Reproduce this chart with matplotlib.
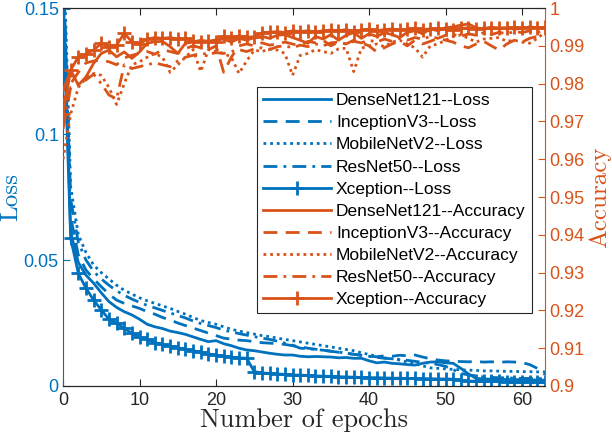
import matplotlib
matplotlib.use("Agg")
import matplotlib.pyplot as plt

epochs = list(range(64))

loss_densenet = [0.160, 0.0610, 0.0490, 0.0440, 0.0408, 0.0370, 0.0335, 0.0312, 0.0295, 0.0282,
                 0.0265, 0.0245, 0.0235, 0.0228, 0.0218, 0.0212, 0.0205, 0.0195, 0.0185, 0.0176,
                 0.0180, 0.0168, 0.0160, 0.0150, 0.0143, 0.0140, 0.0135, 0.0130, 0.0126, 0.0123,
                 0.0123, 0.0118, 0.0116, 0.0117, 0.0116, 0.0115, 0.0112, 0.0113, 0.0110, 0.0110,
                 0.0100, 0.0092, 0.0095, 0.0090, 0.0088, 0.0085, 0.0083, 0.0090, 0.0095, 0.0096,
                 0.0092, 0.0090, 0.0070, 0.0048, 0.0030, 0.0028, 0.0027, 0.0028, 0.0026, 0.0025,
                 0.0026, 0.0024, 0.0024, 0.0023]
loss_inception = [0.170, 0.0670, 0.0520, 0.0460, 0.0425, 0.0394, 0.0365, 0.0341, 0.0328, 0.0318,
                  0.0308, 0.0295, 0.0285, 0.0272, 0.0262, 0.0250, 0.0240, 0.0230, 0.0220, 0.0210,
                  0.0200, 0.0190, 0.0186, 0.0182, 0.0180, 0.0176, 0.0172, 0.0170, 0.0168, 0.0165,
                  0.0160, 0.0156, 0.0150, 0.0146, 0.0142, 0.0138, 0.0134, 0.0130, 0.0126, 0.0122,
                  0.0118, 0.0116, 0.0120, 0.0118, 0.0122, 0.0120, 0.0123, 0.0115, 0.0108, 0.0103,
                  0.0100, 0.0098, 0.0097, 0.0096, 0.0097, 0.0095, 0.0096, 0.0094, 0.0096, 0.0095,
                  0.0093, 0.0085, 0.0070, 0.0045]
loss_mobilenet = [0.180, 0.0790, 0.0600, 0.0530, 0.0480, 0.0450, 0.0425, 0.0400, 0.0380, 0.0365,
                  0.0350, 0.0338, 0.0328, 0.0318, 0.0308, 0.0296, 0.0285, 0.0272, 0.0260, 0.0252,
                  0.0245, 0.0235, 0.0225, 0.0218, 0.0212, 0.0206, 0.0200, 0.0196, 0.0190, 0.0185,
                  0.0180, 0.0175, 0.0170, 0.0165, 0.0160, 0.0155, 0.0150, 0.0145, 0.0140, 0.0132,
                  0.0125, 0.0118, 0.0112, 0.0108, 0.0103, 0.0095, 0.0088, 0.0080, 0.0072, 0.0070,
                  0.0068, 0.0066, 0.0064, 0.0063, 0.0062, 0.0060, 0.0060, 0.0059, 0.0058, 0.0058,
                  0.0057, 0.0057, 0.0056, 0.0056]
loss_resnet = [0.170, 0.0740, 0.0570, 0.0500, 0.0455, 0.0425, 0.0400, 0.0378, 0.0360, 0.0345,
               0.0332, 0.0320, 0.0310, 0.0300, 0.0290, 0.0280, 0.0270, 0.0258, 0.0248, 0.0240,
               0.0232, 0.0222, 0.0215, 0.0208, 0.0202, 0.0196, 0.0190, 0.0185, 0.0178, 0.0170,
               0.0162, 0.0150, 0.0148, 0.0145, 0.0142, 0.0138, 0.0135, 0.0130, 0.0126, 0.0122,
               0.0118, 0.0114, 0.0110, 0.0108, 0.0105, 0.0102, 0.0098, 0.0094, 0.0090, 0.0085,
               0.0078, 0.0065, 0.0050, 0.0044, 0.0040, 0.0036, 0.0034, 0.0033, 0.0032, 0.0031,
               0.0030, 0.0030, 0.0029, 0.0030]
loss_xception = [0.150, 0.0586, 0.0447, 0.0388, 0.0341, 0.0302, 0.0265, 0.0249, 0.0229, 0.0209,
                 0.0195, 0.0185, 0.0172, 0.0165, 0.0158, 0.0152, 0.0145, 0.0140, 0.0135, 0.0128,
                 0.0122, 0.0118, 0.0115, 0.0112, 0.0110, 0.0057, 0.0052, 0.0050, 0.0048, 0.0046,
                 0.0044, 0.0043, 0.0042, 0.0040, 0.0039, 0.0038, 0.0037, 0.0036, 0.0035, 0.0034,
                 0.0033, 0.0033, 0.0032, 0.0031, 0.0031, 0.0030, 0.0030, 0.0029, 0.0029, 0.0028,
                 0.0028, 0.0027, 0.0022, 0.0020, 0.0019, 0.0019, 0.0018, 0.0018, 0.0017, 0.0017,
                 0.0017, 0.0016, 0.0016, 0.0016]

acc_densenet = [0.9780, 0.9836, 0.9796, 0.9818, 0.9854, 0.9880, 0.9889, 0.9871, 0.9884, 0.9867,
                0.9884, 0.9907, 0.9911, 0.9912, 0.9898, 0.9880, 0.9907, 0.9910, 0.9915, 0.9912,
                0.9916, 0.9918, 0.9910, 0.9920, 0.9915, 0.9922, 0.9925, 0.9920, 0.9928, 0.9930,
                0.9922, 0.9915, 0.9907, 0.9925, 0.9918, 0.9930, 0.9915, 0.9928, 0.9935, 0.9920,
                0.9932, 0.9925, 0.9935, 0.9930, 0.9922, 0.9936, 0.9940, 0.9932, 0.9945, 0.9940,
                0.9948, 0.9950, 0.9955, 0.9958, 0.9948, 0.9945, 0.9950, 0.9946, 0.9948, 0.9944,
                0.9947, 0.9950, 0.9948, 0.9946]
acc_inception = [0.9750, 0.9800, 0.9830, 0.9855, 0.9860, 0.9862, 0.9858, 0.9850, 0.9868, 0.9875,
                 0.9880, 0.9885, 0.9878, 0.9890, 0.9885, 0.9880, 0.9893, 0.9900, 0.9895, 0.9890,
                 0.9900, 0.9830, 0.9870, 0.9900, 0.9905, 0.9900, 0.9908, 0.9902, 0.9905, 0.9910,
                 0.9905, 0.9900, 0.9912, 0.9908, 0.9915, 0.9900, 0.9910, 0.9905, 0.9915, 0.9908,
                 0.9900, 0.9884, 0.9895, 0.9905, 0.9912, 0.9900, 0.9915, 0.9905, 0.9912, 0.9920,
                 0.9915, 0.9910, 0.9900, 0.9895, 0.9905, 0.9912, 0.9900, 0.9889, 0.9905, 0.9915,
                 0.9910, 0.9920, 0.9925, 0.9930]
acc_mobilenet = [0.9600, 0.9720, 0.9790, 0.9815, 0.9827, 0.9822, 0.9790, 0.9745, 0.9800, 0.9850,
                 0.9858, 0.9870, 0.9880, 0.9870, 0.9830, 0.9850, 0.9870, 0.9890, 0.9832, 0.9890,
                 0.9885, 0.9880, 0.9870, 0.9827, 0.9860, 0.9889, 0.9885, 0.9892, 0.9889, 0.9880,
                 0.9822, 0.9875, 0.9880, 0.9890, 0.9885, 0.9880, 0.9892, 0.9894, 0.9832, 0.9894,
                 0.9900, 0.9905, 0.9898, 0.9910, 0.9915, 0.9905, 0.9895, 0.9870, 0.9900, 0.9905,
                 0.9915, 0.9925, 0.9929, 0.9920, 0.9910, 0.9918, 0.9920, 0.9922, 0.9912, 0.9915,
                 0.9910, 0.9907, 0.9920, 0.9936]
acc_resnet = [0.9680, 0.9790, 0.9800, 0.9810, 0.9825, 0.9800, 0.9770, 0.9760, 0.9850, 0.9840,
              0.9845, 0.9850, 0.9855, 0.9850, 0.9845, 0.9860, 0.9870, 0.9875, 0.9880, 0.9878,
              0.9882, 0.9880, 0.9885, 0.9890, 0.9885, 0.9892, 0.9895, 0.9890, 0.9898, 0.9900,
              0.9895, 0.9902, 0.9898, 0.9905, 0.9900, 0.9908, 0.9910, 0.9905, 0.9912, 0.9908,
              0.9915, 0.9910, 0.9918, 0.9912, 0.9920, 0.9915, 0.9922, 0.9918, 0.9925, 0.9920,
              0.9928, 0.9930, 0.9925, 0.9932, 0.9928, 0.9935, 0.9930, 0.9936, 0.9932, 0.9938,
              0.9935, 0.9940, 0.9936, 0.9938]
acc_xception = [0.9720, 0.9836, 0.9871, 0.9878, 0.9889, 0.9907, 0.9898, 0.9902, 0.9933, 0.9911,
                0.9905, 0.9918, 0.9922, 0.9920, 0.9922, 0.9918, 0.9920, 0.9912, 0.9911, 0.9912,
                0.9910, 0.9925, 0.9922, 0.9926, 0.9923, 0.9924, 0.9935, 0.9936, 0.9938, 0.9935,
                0.9940, 0.9938, 0.9940, 0.9937, 0.9940, 0.9942, 0.9940, 0.9943, 0.9938, 0.9942,
                0.9944, 0.9940, 0.9943, 0.9945, 0.9942, 0.9944, 0.9946, 0.9943, 0.9945, 0.9946,
                0.9944, 0.9942, 0.9946, 0.9948, 0.9945, 0.9947, 0.9946, 0.9948, 0.9947, 0.9949,
                0.9946, 0.9950, 0.9948, 0.9949]

model_names = ["DenseNet121", "InceptionV3", "MobileNetV2", "ResNet50", "Xception"]
loss_series = [loss_densenet, loss_inception, loss_mobilenet, loss_resnet, loss_xception]
acc_series = [acc_densenet, acc_inception, acc_mobilenet, acc_resnet, acc_xception]

loss_ticks = [0, 0.05, 0.1, 0.15]
loss_tick_labels = ["0", "0.05", "0.1", "0.15"]
acc_ticks = [0.9, 0.91, 0.92, 0.93, 0.94, 0.95, 0.96, 0.97, 0.98, 0.99, 1.0]
acc_tick_labels = ["0.9", "0.91", "0.92", "0.93", "0.94", "0.95", "0.96", "0.97", "0.98", "0.99", "1"]
x_ticks = [0, 10, 20, 30, 40, 50, 60]

BLUE = "#0072BD"
ORANGE = "#D95319"
DARK = "#262626"
styles = [dict(ls="-"), dict(ls=(0, (5, 3))), dict(ls=(0, (1, 1.4))),
          dict(ls=(0, (5, 2.2, 1, 2.2))), dict(ls="-", marker="+", ms=10, mew=2.0)]

plt.rcParams["font.family"] = ["Liberation Sans", "DejaVu Sans"]

fig = plt.figure(figsize=(6.12, 4.42), dpi=100)
ax1 = fig.add_axes([0.103, 0.1267, 0.7875, 0.855])
ax2 = ax1.twinx()

lw = 2.0
handles = []
for name, ys, st in zip(model_names, loss_series, styles):
    h, = ax1.plot(epochs, ys, color=BLUE, lw=lw, label=f"{name}--Loss", **st)
    handles.append(h)
for name, ys, st in zip(model_names, acc_series, styles):
    h, = ax2.plot(epochs, ys, color=ORANGE, lw=lw, label=f"{name}--Accuracy", **st)
    handles.append(h)

ax1.set_xlim(0, 63)
ax1.set_ylim(0, 0.15)
ax2.set_ylim(0.9, 1.0)
ax1.set_xticks(x_ticks)
ax1.set_xticklabels([str(t) for t in x_ticks])
ax1.set_yticks(loss_ticks)
ax1.set_yticklabels(loss_tick_labels)
ax2.set_yticks(acc_ticks)
ax2.set_yticklabels(acc_tick_labels)

ax1.tick_params(axis="x", direction="in", length=5, width=0.8, top=True, colors=DARK, labelsize=13, pad=4)
ax1.tick_params(axis="y", direction="in", length=5, width=0.8, colors=BLUE, labelsize=13, pad=3)
ax2.tick_params(axis="y", direction="in", length=5, width=0.8, colors=ORANGE, labelsize=13, pad=3)

for ax in (ax1, ax2):
    ax.spines["top"].set_color(DARK)
    ax.spines["bottom"].set_color(DARK)
    for s in ax.spines.values():
        s.set_linewidth(0.8)
ax1.spines["left"].set_color(BLUE)
ax2.spines["left"].set_visible(False)
ax1.spines["right"].set_visible(False)
ax2.spines["right"].set_color(ORANGE)

ax1.set_xlabel("Number of epochs", family="cmr10", fontsize=19, color=DARK, labelpad=0)
ax1.set_ylabel("Loss", family="cmr10", fontsize=18, color=BLUE, labelpad=1)
ax2.set_ylabel("Accuracy", family="cmr10", fontsize=18, color=ORANGE, labelpad=3)

leg = ax2.legend(handles, [h.get_label() for h in handles], loc="upper left",
                 bbox_to_anchor=(0.4025, 0.791), borderaxespad=0, fontsize=12.5,
                 labelspacing=0.4, handlelength=3.9, handletextpad=0.3, borderpad=0.35,
                 frameon=True, fancybox=False, framealpha=1, edgecolor=DARK)
leg.get_frame().set_linewidth(0.8)

fig.savefig("out.png", dpi=100)
